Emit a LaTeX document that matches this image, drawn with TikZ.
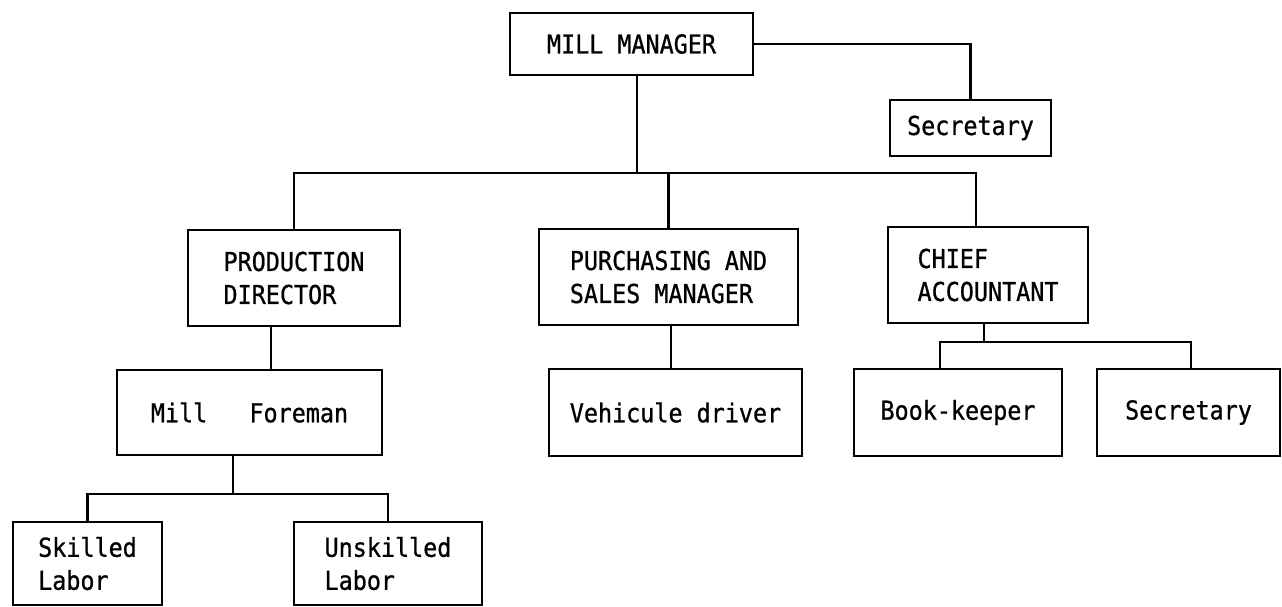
\documentclass[tikz,border=0pt]{standalone}
\usepackage{fontspec}
\newfontfamily\typew[FakeStretch=0.9,FakeBold=0.8]{DejaVu Sans Mono}
\begin{document}
\begin{tikzpicture}[x=1pt,y=-1pt,
  box/.style={draw, line width=2.6pt, rectangle, inner sep=0pt, align=left,
    font=\typew\fontsize{26}{33}\selectfont},
  link/.style={line width=2.6pt}]
\useasboundingbox[fill=white] (0,0) rectangle (1282,606);
% boxes
\node[box, minimum width=243, minimum height=62] (mm)   at (631.5,44)   {MILL MANAGER};
\node[box, minimum width=161, minimum height=56] (sec1) at (970.5,128)  {Secretary};
\node[box, minimum width=212, minimum height=96] (pd)   at (294,278)    {PRODUCTION\\DIRECTOR};
\node[box, minimum width=259, minimum height=96] (ps)   at (668.5,277)  {PURCHASING AND\\SALES MANAGER};
\node[box, minimum width=200, minimum height=96] (ca)   at (988,275)    {CHIEF\\ACCOUNTANT};
\node[box, minimum width=265, minimum height=85] (fm)   at (249.5,412.5){Mill\ \ \ Foreman};
\node[box, minimum width=253, minimum height=87] (vd)   at (675.5,412.5){Vehicule driver};
\node[box, minimum width=208, minimum height=87] (bk)   at (958,412.5)  {Book-keeper};
\node[box, minimum width=183, minimum height=87] (sec2) at (1188.5,412.5){Secretary};
\node[box, minimum width=149, minimum height=83] (sk)   at (87.5,563.5) {Skilled\\Labor};
\node[box, minimum width=188, minimum height=83] (us)   at (388,563.5)  {Unskilled\\Labor};
% junction coordinates
\coordinate (b1)  at (637,173);
\coordinate (b1r) at (976,173);
\coordinate (c2)  at (271,0);
\coordinate (b2)  at (233,494);
\coordinate (c3)  at (671,0);
\coordinate (b3)  at (984,342);
\coordinate (b3l) at (940,342);
\coordinate (b3r) at (1191,342);
% connectors
\draw[link] (mm.east) -| (sec1.north);
\draw[link] (mm.south -| b1) -- (b1);
\draw[link] (pd.north) -- (pd.north |- b1) -- (b1r) -- (b1r |- ca.north);
\draw[link] (ps.north) -- (ps.north |- b1);
\draw[link] (pd.south -| c2) -- (fm.north -| c2);
\draw[link] (fm.south -| b2) -- (b2);
\draw[link] (sk.north) |- (us.north |- b2) -- (us.north);
\draw[link] (ps.south -| c3) -- (vd.north -| c3);
\draw[link] (ca.south -| b3) -- (b3);
\draw[link] (bk.north -| b3l) -- (b3l) -- (b3r) -- (sec2.north -| b3r);
\end{tikzpicture}
\end{document}
